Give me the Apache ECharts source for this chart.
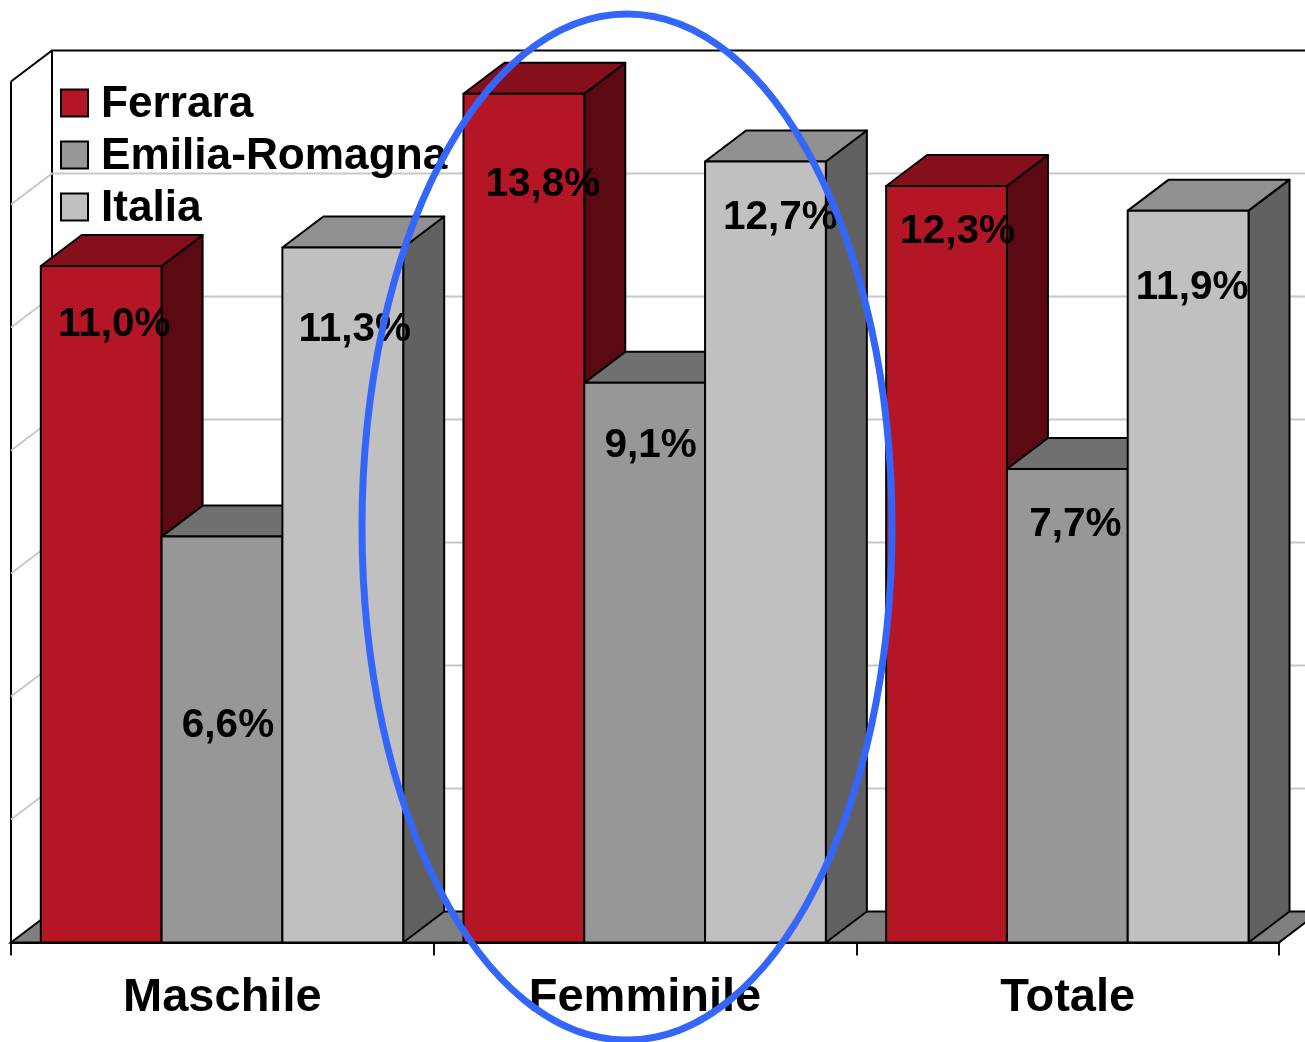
<!DOCTYPE html>
<html>
<head>
<meta charset="utf-8">
<style>html,body{margin:0;padding:0;background:#fff;overflow:hidden}#c{width:1305px;height:1042px}</style>
<script src="https://cdn.jsdelivr.net/npm/echarts@6/dist/echarts.min.js"></script>
</head>
<body>
<div id="c"></div>
<script>
const categories = ['Maschile', 'Femminile', 'Totale'];
const ferrara = [11.0, 13.8, 12.3];
const emiliaRomagna = [6.6, 9.1, 7.7];
const italia = [11.3, 12.7, 11.9];
const yTicks = [0, 2, 4, 6, 8, 10, 12, 14];

const FONT = '"Liberation Sans", Arial, sans-serif';
const DX = 41, DY = 31, BAR_W = 0.2858, GAP = 0.0705;
const styles = [
  { name: 'Ferrara', face: '#b41626', top: '#85101c', side: '#5b0a13' },
  { name: 'Emilia-Romagna', face: '#979797', top: '#707070', side: '#4f4f4f' },
  { name: 'Italia', face: '#c0c0c0', top: '#909090', side: '#616161' }
];
// label nudges from the bar's front-top centre, as placed in the picture
const labelNudge = [
  [[13, 59], [19, 91], [11, 46]],
  [[6, 189], [6, 63], [8, 56]],
  [[12, 82], [15, 56], [4, 77]]
];

function barGeom(api, s) {
  const cat = api.value(0), v = api.value(1);
  const c = api.coord([cat, v]);
  const base = api.coord([cat, 0]);
  const band = api.size([1, 0])[0];
  const w = band * BAR_W;
  const x0 = c[0] - band / 2 + band * GAP + s * w;
  return { x0, x1: x0 + w, yt: c[1], yb: base[1], w };
}

function barSeries(s, values) {
  const st = styles[s];
  return {
    type: 'custom',
    name: st.name,
    z: 3 + s,
    itemStyle: { color: st.face, borderColor: '#000', borderWidth: 1.5 },
    data: values.map((v, i) => [i, v]),
    encode: { x: 0, y: 1 },
    renderItem: function (params, api) {
      const g = barGeom(api, s);
      const line = { stroke: '#000', lineWidth: 2, lineJoin: 'round' };
      return {
        type: 'group',
        children: [
          { type: 'polygon', shape: { points: [[g.x1, g.yt], [g.x1 + DX, g.yt - DY], [g.x1 + DX, g.yb - DY], [g.x1, g.yb]] }, style: Object.assign({ fill: st.side }, line) },
          { type: 'polygon', shape: { points: [[g.x0, g.yt], [g.x0 + DX, g.yt - DY], [g.x1 + DX, g.yt - DY], [g.x1, g.yt]] }, style: Object.assign({ fill: st.top }, line) },
          { type: 'rect', shape: { x: g.x0, y: g.yt, width: g.w, height: g.yb - g.yt }, style: Object.assign({ fill: st.face }, line) }
        ]
      };
    }
  };
}

const wallSeries = {
  type: 'custom',
  name: 'walls',
  z: 1,
  silent: true,
  data: yTicks.map(v => [0, v]),
  encode: { x: 0, y: 1 },
  renderItem: function (params, api) {
    const cs = params.coordSys;
    const v = api.value(1);
    const y = api.coord([0, v])[1];
    const xL = cs.x, xR = cs.x + cs.width;
    const maxV = yTicks[yTicks.length - 1];
    if (v === 0) {
      const yTop = api.coord([0, maxV])[1];
      return {
        type: 'group',
        children: [
          { type: 'polygon', shape: { points: [[xL, y], [xL + DX, y - DY], [xR + DX, y - DY], [xR, y]] }, style: { fill: '#808080', stroke: '#000', lineWidth: 2 } },
          { type: 'polyline', shape: { points: [[xL, y], [xL, yTop]] }, style: { fill: 'none', stroke: '#000', lineWidth: 2 } },
          { type: 'polyline', shape: { points: [[xL + DX, y - DY], [xL + DX, yTop - DY]] }, style: { fill: 'none', stroke: '#000', lineWidth: 2 } }
        ]
      };
    }
    const isTop = v === maxV;
    return {
      type: 'polyline',
      shape: { points: [[xL, y], [xL + DX, y - DY], [xR + DX, y - DY]] },
      style: { fill: 'none', stroke: isTop ? '#000' : '#c8c8c8', lineWidth: 2 }
    };
  }
};

const labelRows = [];
[ferrara, emiliaRomagna, italia].forEach((vals, s) => vals.forEach((v, i) => labelRows.push([i, v, s])));

const labelSeries = {
  type: 'custom',
  name: 'labels',
  z: 8,
  silent: true,
  data: labelRows,
  encode: { x: 0, y: 1 },
  renderItem: function (params, api) {
    const s = api.value(2), i = api.value(0), v = api.value(1);
    const g = barGeom(api, s);
    const n = labelNudge[s][i];
    return {
      type: 'text',
      style: {
        text: v.toFixed(1).replace('.', ',') + '%',
        x: (g.x0 + g.x1) / 2 + n[0], y: g.yt + n[1],
        fill: '#000', font: 'bold 40.5px ' + FONT,
        align: 'center', verticalAlign: 'middle'
      }
    };
  }
};

const chart = echarts.init(document.getElementById('c'), null, { renderer: 'canvas' });
chart.setOption({
  animation: false,
  backgroundColor: '#fff',
  grid: { left: 11, right: 26, top: 81.5, bottom: 99.5, containLabel: false },
  legend: {
    orient: 'vertical', left: 60, top: 83, padding: 0,
    itemWidth: 27, itemHeight: 27, itemGap: 8, selectedMode: false,
    data: styles.map(s => ({ name: s.name, icon: 'rect' })),
    formatter: '{a|{name}}',
    textStyle: {
      rich: { a: { fontFamily: FONT, fontWeight: 'bold', fontSize: 44.2, color: '#000', padding: [4, 0, 0, 8] } }
    }
  },
  xAxis: {
    type: 'category', data: categories, boundaryGap: true,
    axisLine: { lineStyle: { color: '#000', width: 3 } },
    axisTick: { show: true, length: 13, lineStyle: { color: '#111', width: 2 } },
    axisLabel: { fontFamily: FONT, fontWeight: 'bold', fontSize: 47, color: '#000', margin: 32 }
  },
  yAxis: {
    type: 'value', min: 0, max: 14, interval: 2, show: false, splitLine: { show: false }
  },
  series: [wallSeries, barSeries(0, ferrara), barSeries(1, emiliaRomagna), barSeries(2, italia), labelSeries],
  graphic: [{
    type: 'ellipse', z: 1000, silent: true,
    shape: { cx: 627, cy: 527, rx: 265, ry: 513 },
    style: { fill: 'none', stroke: '#3566fb', lineWidth: 7 }
  }]
});
</script>
</body>
</html>
